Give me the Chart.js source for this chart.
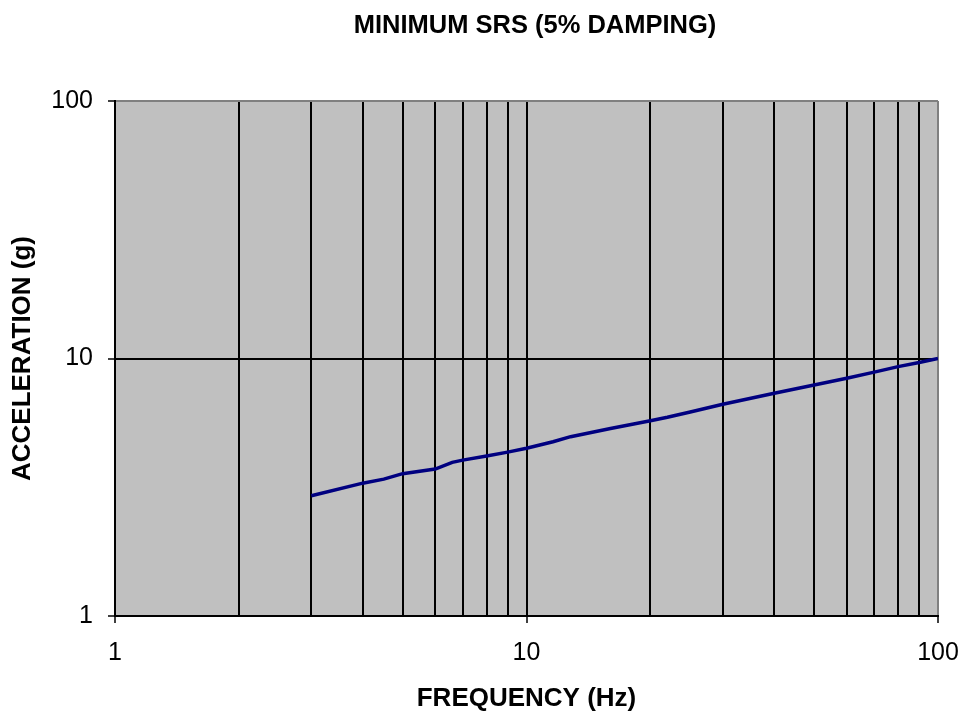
<!DOCTYPE html>
<html>
<head>
<meta charset="utf-8">
<script src="https://cdn.jsdelivr.net/npm/chart.js@4/dist/chart.umd.min.js"></script>
<style>
  html, body { margin: 0; padding: 0; background: #ffffff; }
  #wrap { width: 963px; height: 713px; position: relative; }
</style>
</head>
<body>
<div id="wrap"><canvas id="c" width="963" height="713"></canvas></div>
<script>
// ---- data ----
const chartTitle = "MINIMUM SRS (5% DAMPING)";
const xAxisTitle = "FREQUENCY (Hz)";
const yAxisTitle = "ACCELERATION (g)";
const frequencies = [3, 4, 4.5, 5, 6, 6.6, 7, 8, 9, 10, 11.6, 12.8, 16, 20, 22, 25, 30, 40, 50, 60, 70, 80, 90, 100];
const accelerations = [2.93, 3.28, 3.40, 3.57, 3.72, 3.95, 4.03, 4.18, 4.33, 4.48, 4.75, 4.97, 5.35, 5.73, 5.91, 6.20, 6.64, 7.33, 7.89, 8.38, 8.85, 9.30, 9.65, 10.0];
const xTickLabels = [1, 10, 100];
const yTickLabels = [1, 10, 100];

const FONT = "'Liberation Sans', Arial, sans-serif";

// a log-scale gridline belongs to the 1..9 x 10^n family
function isDecadeMultiple(v) {
  if (!(v > 0)) return false;
  const p = Math.pow(10, Math.floor(Math.log10(v) + 1e-9));
  const m = v / p;
  return Math.abs(m - Math.round(m)) < 1e-6;
}

const bgPlugin = {
  id: 'plotBg',
  beforeDraw(chart) {
    const {ctx, chartArea: a} = chart;
    ctx.save();
    ctx.fillStyle = '#C0C0C0';
    ctx.fillRect(a.left, a.top, a.right - a.left, a.bottom - a.top);
    ctx.restore();
  }
};

const titlePlugin = {
  id: 'topTitle',
  afterDraw(chart) {
    const ctx = chart.ctx;
    ctx.save();
    ctx.font = "bold 25.5px " + FONT;
    ctx.fillStyle = '#000';
    ctx.textAlign = 'center';
    ctx.textBaseline = 'middle';
    ctx.fillText(chartTitle, 535, 26);
    ctx.restore();
  }
};

const points = frequencies.map((f, i) => ({x: f, y: accelerations[i]}));

new Chart(document.getElementById('c'), {
  type: 'line',
  data: {
    datasets: [{
      data: points,
      borderColor: '#000080',
      borderWidth: 3.5,
      pointRadius: 0,
      tension: 0,
      fill: false
    }]
  },
  options: {
    responsive: false,
    animation: false,
    events: [],
    layout: { padding: { left: 0, right: 25, top: 101, bottom: 0 } },
    plugins: {
      legend: { display: false },
      tooltip: { enabled: false },
      title: { display: false }
    },
    scales: {
      x: {
        type: 'logarithmic',
        min: 1, max: 100,
        afterFit(s) { s.height = 97; s.paddingLeft = 0; s.paddingRight = 0; },
        border: { display: true, color: '#000', width: 2 },
        grid: {
          drawTicks: true,
          tickLength: 7,
          lineWidth: 2,
          tickWidth: 1.5,
          color: (ctx) => {
            const v = ctx.tick && ctx.tick.value;
            if (v === 1 || !isDecadeMultiple(v)) return 'rgba(0,0,0,0)';
            if (v === 100) return '#808080';
            return '#000';
          },
          tickColor: (ctx) => {
            const v = ctx.tick && ctx.tick.value;
            return xTickLabels.includes(v) ? '#000' : 'rgba(0,0,0,0)';
          }
        },
        ticks: {
          autoSkip: false,
          maxRotation: 0,
          padding: 15,
          color: '#000',
          font: { family: FONT, size: 25 },
          callback: (v) => xTickLabels.includes(v) ? String(v) : ''
        },
        title: {
          display: true,
          text: xAxisTitle,
          color: '#000',
          font: { family: FONT, size: 26, weight: 'bold', lineHeight: 1 },
          padding: { top: 0, bottom: 1 }
        }
      },
      y: {
        type: 'logarithmic',
        min: 1, max: 100,
        afterFit(s) { s.width = 115; s.paddingTop = 0; s.paddingBottom = 0; },
        border: { display: true, color: '#000', width: 2 },
        grid: {
          drawTicks: true,
          tickLength: 7,
          lineWidth: 2,
          tickWidth: 1.5,
          color: (ctx) => {
            const v = ctx.tick && ctx.tick.value;
            if (v === 10) return '#000';
            if (v === 100) return '#808080';
            return 'rgba(0,0,0,0)';
          },
          tickColor: (ctx) => {
            const v = ctx.tick && ctx.tick.value;
            return yTickLabels.includes(v) ? '#000' : 'rgba(0,0,0,0)';
          }
        },
        ticks: {
          autoSkip: false,
          padding: 15,
          color: '#000',
          font: { family: FONT, size: 25 },
          callback: (v) => yTickLabels.includes(v) ? String(v) : ''
        },
        title: {
          display: true,
          text: yAxisTitle,
          color: '#000',
          font: { family: FONT, size: 26, weight: 'bold', lineHeight: 1 },
          padding: { top: 10, bottom: 0 }
        }
      }
    }
  },
  plugins: [bgPlugin, titlePlugin]
});
</script>
</body>
</html>
